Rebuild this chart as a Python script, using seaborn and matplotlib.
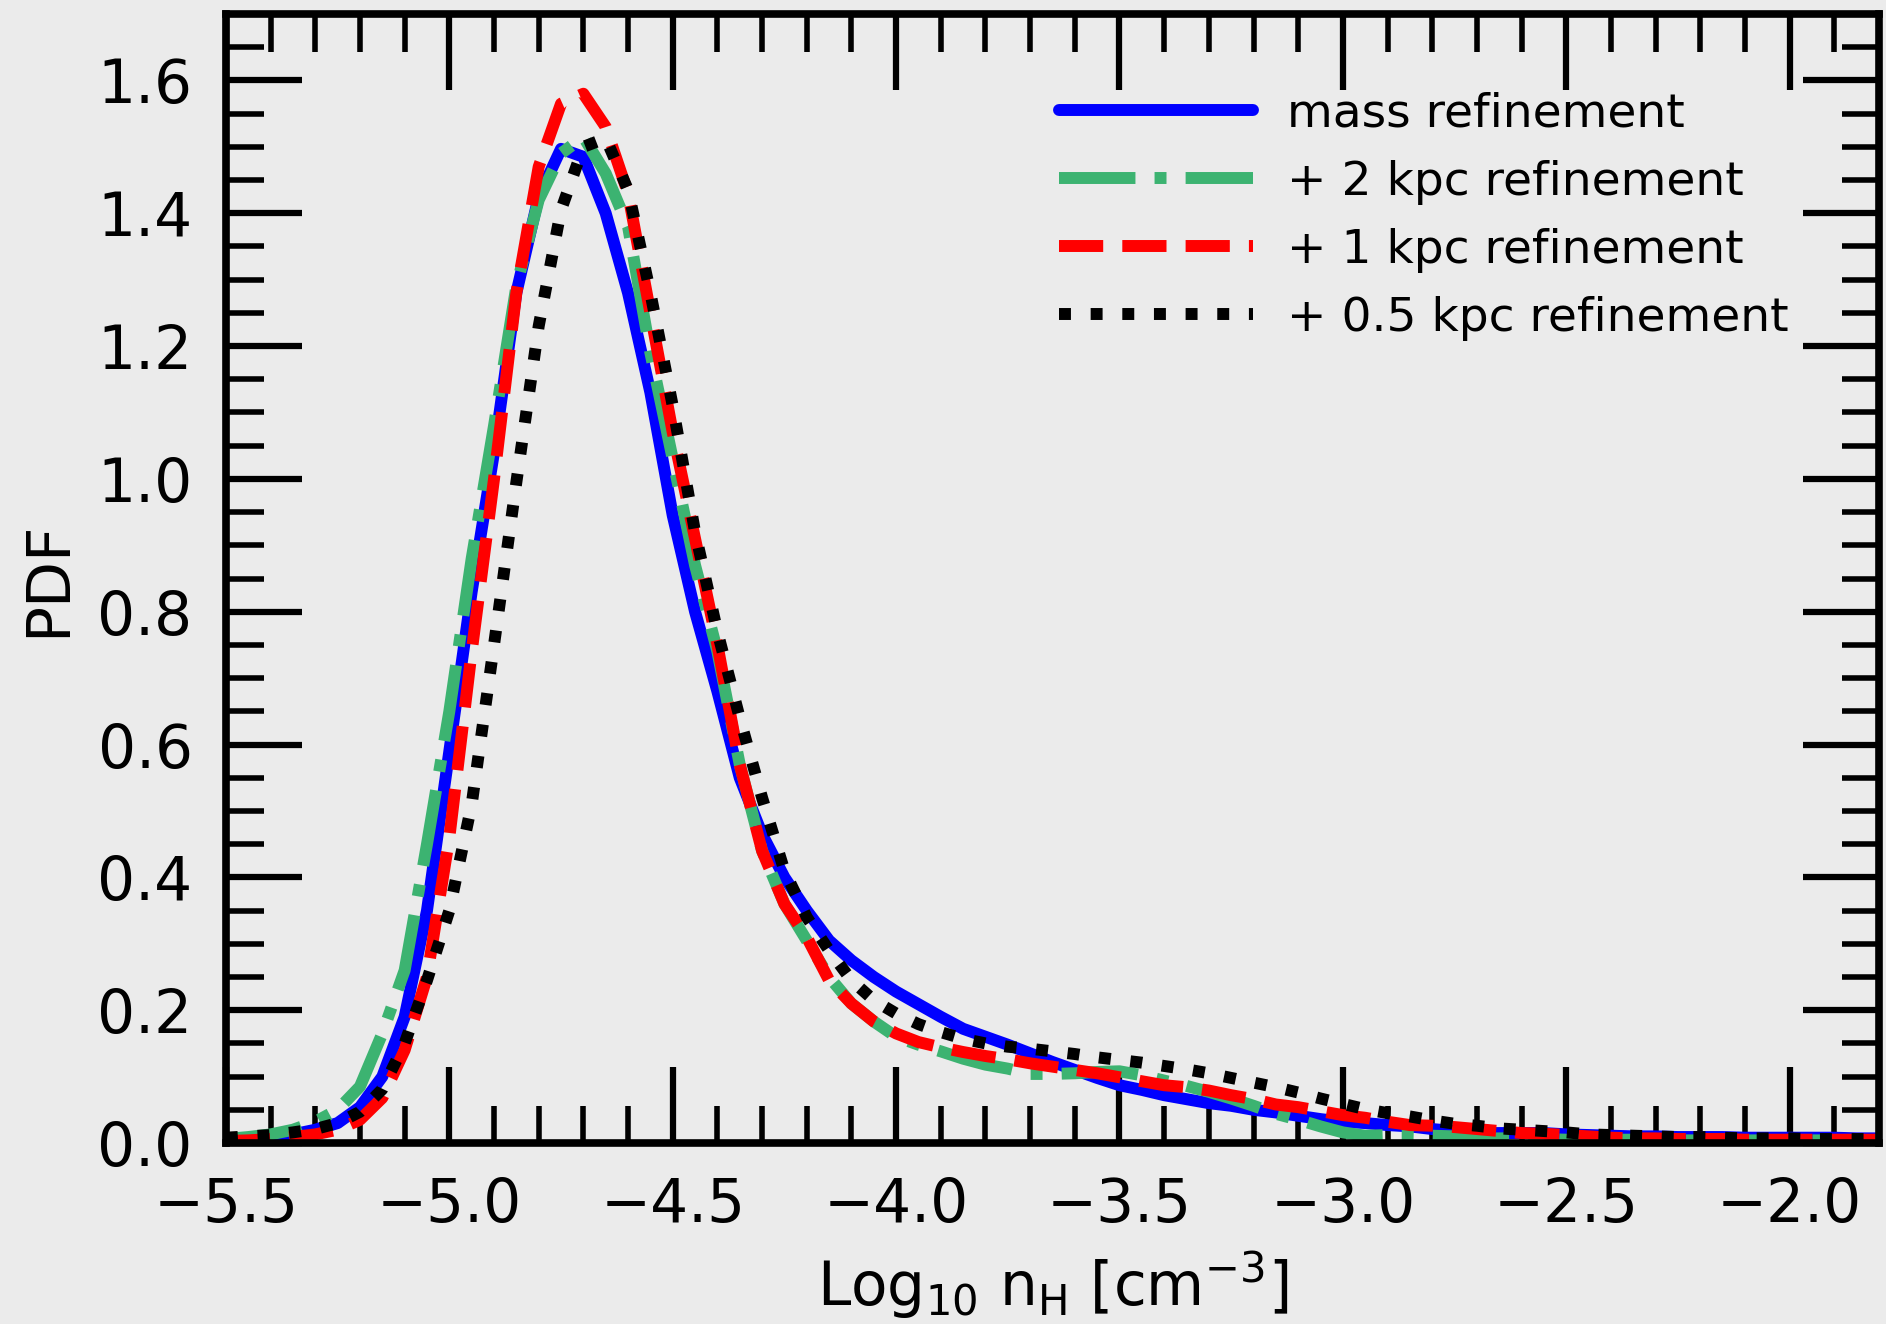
import numpy as np
import pandas as pd
import matplotlib
matplotlib.use("Agg")
import matplotlib.pyplot as plt
from matplotlib.ticker import MultipleLocator
import seaborn as sns

# log10 hydrogen number density grid [cm^-3]
log_nh = np.linspace(-5.5, -1.8, 75)

pdf_mass = [0.005, 0.007, 0.010, 0.013, 0.020, 0.030, 0.054, 0.100, 0.190, 0.350,
            0.590, 0.830, 1.040, 1.280, 1.425, 1.497, 1.485, 1.400, 1.280, 1.130,
            0.945, 0.800, 0.680, 0.550, 0.465, 0.400, 0.350, 0.305, 0.275, 0.250,
            0.228, 0.209, 0.190, 0.172, 0.160, 0.148, 0.135, 0.122, 0.110, 0.098,
            0.087, 0.080, 0.072, 0.066, 0.060, 0.056, 0.050, 0.046, 0.041, 0.036,
            0.032, 0.030, 0.027, 0.025, 0.021, 0.018, 0.015, 0.015, 0.015, 0.015,
            0.013, 0.012, 0.011, 0.010, 0.010, 0.009, 0.009, 0.009, 0.008, 0.008,
            0.008, 0.008, 0.008, 0.007, 0.007]

pdf_2kpc = [0.006, 0.009, 0.013, 0.020, 0.032, 0.050, 0.085, 0.165, 0.260, 0.450,
            0.650, 0.880, 1.080, 1.290, 1.420, 1.490, 1.515, 1.460, 1.380, 1.190,
            1.030, 0.870, 0.740, 0.570, 0.440, 0.360, 0.305, 0.250, 0.210, 0.183,
            0.160, 0.148, 0.138, 0.127, 0.118, 0.112, 0.104, 0.104, 0.105, 0.107,
            0.108, 0.102, 0.094, 0.086, 0.077, 0.067, 0.056, 0.044, 0.035, 0.025,
            0.016, 0.011, 0.012, 0.012, 0.011, 0.010, 0.007, 0.007, 0.007, 0.006,
            0.005, 0.005, 0.005, 0.005, 0.005, 0.004, 0.004, 0.004, 0.004, 0.004,
            0.004, 0.004, 0.004, 0.004, 0.004]

pdf_1kpc = [0.003, 0.004, 0.006, 0.009, 0.013, 0.020, 0.035, 0.068, 0.140, 0.250,
            0.460, 0.740, 1.000, 1.280, 1.470, 1.565, 1.580, 1.530, 1.430, 1.250,
            1.070, 0.910, 0.750, 0.570, 0.440, 0.360, 0.310, 0.245, 0.210, 0.183,
            0.165, 0.152, 0.144, 0.137, 0.131, 0.126, 0.120, 0.115, 0.110, 0.105,
            0.099, 0.093, 0.087, 0.084, 0.079, 0.072, 0.066, 0.058, 0.054, 0.048,
            0.042, 0.038, 0.032, 0.027, 0.026, 0.024, 0.021, 0.018, 0.015, 0.014,
            0.012, 0.010, 0.008, 0.007, 0.007, 0.006, 0.006, 0.006, 0.005, 0.005,
            0.005, 0.005, 0.005, 0.005, 0.005]

pdf_05kpc = [0.008, 0.010, 0.012, 0.016, 0.021, 0.030, 0.047, 0.081, 0.150, 0.245,
             0.350, 0.510, 0.750, 0.995, 1.230, 1.405, 1.500, 1.513, 1.435, 1.280,
             1.110, 0.920, 0.770, 0.640, 0.520, 0.410, 0.340, 0.290, 0.245, 0.215,
             0.195, 0.179, 0.167, 0.157, 0.150, 0.145, 0.142, 0.138, 0.134, 0.129,
             0.125, 0.121, 0.116, 0.111, 0.105, 0.098, 0.091, 0.084, 0.076, 0.067,
             0.059, 0.051, 0.045, 0.040, 0.034, 0.029, 0.026, 0.022, 0.020, 0.018,
             0.016, 0.013, 0.012, 0.011, 0.010, 0.009, 0.009, 0.008, 0.007, 0.007,
             0.007, 0.006, 0.006, 0.006, 0.006]

labels = ["mass refinement", "+ 2 kpc refinement", "+ 1 kpc refinement",
          "+ 0.5 kpc refinement"]
series = [pdf_mass, pdf_2kpc, pdf_1kpc, pdf_05kpc]
colors = ["#0000ff", "#3cb371", "#ff0000", "#000000"]
styles = ["-", "-.", "--", ":"]

BG = "#ebebeb"
sns.set_theme(style="ticks", rc={"axes.facecolor": BG, "figure.facecolor": BG,
                                 "axes.edgecolor": "black", "axes.grid": False,
                                 "text.color": "black", "axes.labelcolor": "black",
                                 "xtick.color": "black", "ytick.color": "black"})
plt.rcParams["font.family"] = ["DejaVu Sans"]
plt.rcParams["mathtext.fontset"] = "dejavusans"

FS_TICK = 43
FS_LEG = 33.9
fig = plt.figure(figsize=(18.86, 13.24), dpi=100)
ax = fig.add_axes([0.1198, 0.1367, 0.9963 - 0.1198, 0.9894 - 0.1367])

for lab, vals, col, ls in zip(labels, series, colors, styles):
    df = pd.DataFrame({"log_nh": log_nh, "pdf": vals})
    sns.lineplot(data=df, x="log_nh", y="pdf", ax=ax, color=col, linestyle=ls,
                 linewidth=8.6, estimator=None, sort=False, label=lab)

ax.set_xlim(-5.5, -1.8)
ax.set_ylim(0, 1.7)
ax.xaxis.set_major_locator(MultipleLocator(0.5))
ax.xaxis.set_minor_locator(MultipleLocator(0.1))
ax.yaxis.set_major_locator(MultipleLocator(0.2))
ax.yaxis.set_minor_locator(MultipleLocator(0.05))

ax.tick_params(which="both", direction="in", top=True, right=True,
               labelsize=FS_TICK, color="black", labelcolor="black", pad=24)
ax.tick_params(which="major", length=55, width=4.5)
ax.tick_params(which="minor", length=27, width=4.0)
for sp in ax.spines.values():
    sp.set_linewidth(5.5)
    sp.set_color("black")

ax.set_xlabel(r"Log$_{10}$ n$_{\rm H}$ [cm$^{-3}$]", fontsize=FS_TICK, labelpad=10)
ax.set_ylabel("PDF", fontsize=FS_TICK, labelpad=14)

leg = ax.legend(loc="upper right", bbox_to_anchor=(0.957, 0.948), borderaxespad=0,
                frameon=False, fontsize=FS_LEG, handlelength=4.13,
                handletextpad=0.73, labelspacing=0.49)

fig.savefig("out.png", dpi=100, facecolor=BG)
